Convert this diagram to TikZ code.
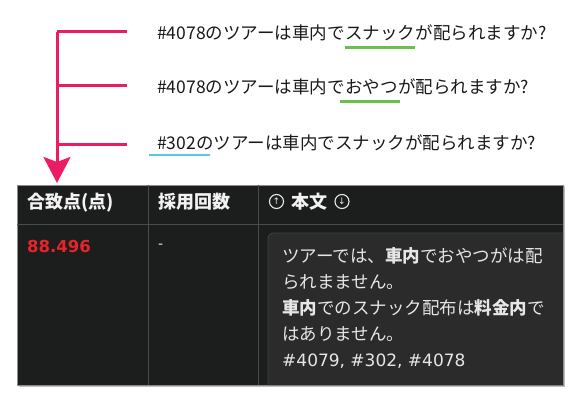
\documentclass[tikz,border=0pt]{standalone}
\usepackage{fontspec}
\usetikzlibrary{arrows.meta}
\newfontfamily\jp{Noto Sans CJK JP}
\newfontfamily\dv{DejaVu Sans}
\definecolor{pinkc}{HTML}{EC1C64}
\definecolor{greenc}{HTML}{6CC04A}
\definecolor{bluec}{HTML}{5BC8E3}
\definecolor{tbg}{HTML}{1C1D1D}
\definecolor{grid}{HTML}{4A4B4B}
\definecolor{boxbg}{HTML}{2B2B2B}
\definecolor{boxln}{HTML}{404040}
\definecolor{redc}{HTML}{E8232A}
\definecolor{txt}{HTML}{E6E6E6}
\tikzset{
  qpart/.style={inner sep=0pt, anchor=base west, font=\jp\fontsize{17.5}{20}\selectfont, text=black!90},
  bracket/.style={draw=pinkc, line width=3pt},
  uline/.style={line width=2.3pt},
  head/.style={inner sep=0pt, anchor=base west, font=\jp\bfseries\fontsize{18}{20}\selectfont, text=white!95!black},
  body/.style={inner sep=0pt, anchor=base west, font=\jp\fontsize{17.5}{20}\selectfont, text=txt},
  icon/.style={circle, draw=txt, line width=1.1pt, minimum size=14pt, inner sep=0pt, font=\dv\fontsize{9}{9}\selectfont, text=txt}
}
\begin{document}
\begin{tikzpicture}[x=1pt,y=-1pt]
\useasboundingbox (0,0) rectangle (584,401);
% questions
\node[qpart] (q1a) at (157,40) {\#4078のツアーは車内で};
\node[qpart] (q1b) at (q1a.base east) {スナック};
\node[qpart] (q1c) at (q1b.base east) {が配られますか?};
\node[qpart] (q2a) at (157,94) {\#4078のツアーは車内で};
\node[qpart] (q2b) at (q2a.base east) {おやつ};
\node[qpart] (q2c) at (q2b.base east) {が配られますか?};
\node[qpart] (q3a) at (157,150) {\#302};
\node[qpart] (q3b) at (q3a.base east) {のツアーは車内でスナックが配られますか?};
\draw[uline, greenc] ([yshift=-7.5pt]q1b.base west) -- ([yshift=-7.5pt]q1b.base east);
\draw[uline, greenc] ([xshift=-5pt,yshift=-7.5pt]q2b.base west) -- ([xshift=2pt,yshift=-7.5pt]q2b.base east);
\draw[uline, bluec] ([xshift=-8pt,yshift=-5pt]q3a.base west) -- ([xshift=14pt,yshift=-5pt]q3a.base east);
% bracket
\coordinate (t1) at (57,32);
\coordinate (t2) at (57,86);
\coordinate (t3) at (57,145);
\coordinate (e1) at (127,32);
\coordinate (e2) at (127,86);
\coordinate (e3) at (127,145);
\coordinate (tip) at (57,183);
\draw[bracket] (e1) -- (t1);
\draw[bracket] (e2) -- (t2);
\draw[bracket] (e3) -- (t3);
\draw[bracket, -{Stealth[length=26pt,width=27pt,inset=5pt]}] (t1) -- (tip);
% table
\fill[black!25] (18.5,186.5) rectangle (564.5,387);
\fill[tbg] (17,185) rectangle (563,385);
\draw[black!45, line width=0.8pt] (17,185) rectangle (563,385);
\draw[grid, line width=0.9pt] (17,224) -- (563,224);
\draw[grid, line width=0.9pt] (148,185) -- (148,385);
\draw[grid, line width=0.9pt] (258,185) -- (258,385);
\node[head] (h1) at (27,208) {合致点(点)};
\node[head] (h2) at (158,208) {採用回数};
\node[icon] (up) at (276.5,201.5) {↑};
\node[head] (h3) at (291,208) {本文};
\node[icon] (down) at (342,201.5) {↓};
\node[inner sep=0pt, anchor=base west, font=\dv\bfseries\fontsize{16.5}{20}\selectfont, text=redc] (score) at (27,252) {88.496};
\node[inner sep=0pt, anchor=base west, font=\dv\fontsize{14}{14}\selectfont, text=txt] (dash) at (158,248) {-};
% content box
\fill[boxbg] (268,385) [rounded corners=6pt] -- (268,233) [sharp corners] -- (563,233) -- (563,385) -- cycle;
\draw[boxln, line width=0.9pt] (268,385) [rounded corners=6pt] -- (268,233) [sharp corners] -- (563,233);
\draw[black!45, line width=0.8pt] (563,233) -- (563,385);
\node[body] (b1) at (282,262) {ツアーでは、{\bfseries 車内}でおやつがは配};
\node[body] (b2) at (282,288) {られまません。};
\node[body] (b3) at (282,314) {{\bfseries 車内}でのスナック配布は{\bfseries 料金内}で};
\node[body] (b4) at (282,340) {はありません。};
\node[inner sep=0pt, anchor=base west, font=\dv\fontsize{17}{20}\selectfont, text=txt] (b5) at (282,366) {\#4079, \#302, \#4078};
\end{tikzpicture}
\end{document}
